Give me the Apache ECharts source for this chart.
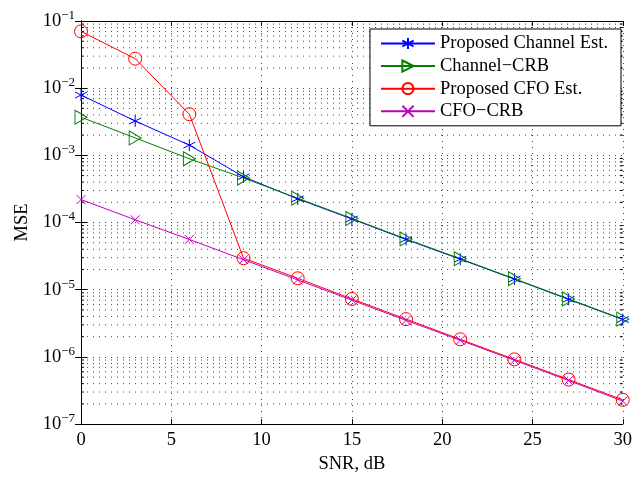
<!DOCTYPE html>
<html>
<head>
<meta charset="utf-8">
<script src="https://cdn.jsdelivr.net/npm/echarts@6/dist/echarts.min.js"></script>
<style>
  html, body { margin: 0; padding: 0; background: #fff; }
  #chart { width: 635px; height: 479px; }
</style>
</head>
<body>
<div id="chart"></div>
<script>
// values
const snr = [0, 3, 6, 9, 12, 15, 18, 21, 24, 27, 30];
const channelEst = [7.9e-3, 3.25e-3, 1.42e-3, 4.8e-4, 2.25e-4, 1.13e-4, 5.6e-5, 2.85e-5, 1.44e-5, 7.2e-6, 3.6e-6];
const channelCrb = [3.7e-3, 1.82e-3, 8.9e-4, 4.6e-4, 2.3e-4, 1.15e-4, 5.7e-5, 2.9e-5, 1.46e-5, 7.3e-6, 3.65e-6];
const cfoEst = [7.0e-2, 2.75e-2, 4.1e-3, 2.95e-5, 1.48e-5, 7.3e-6, 3.65e-6, 1.83e-6, 9.2e-7, 4.6e-7, 2.3e-7];
const cfoCrb = [2.2e-4, 1.1e-4, 5.6e-5, 2.8e-5, 1.4e-5, 7.0e-6, 3.5e-6, 1.77e-6, 8.9e-7, 4.45e-7, 2.2e-7];
const seriesNames = ['Proposed Channel Est.', 'Channel\u2212CRB', 'Proposed CFO Est.', 'CFO\u2212CRB'];
const yMin = 1e-7;
const yMax = 1e-1;

// minor log positions (2..9 of each decade) for grid and ticks
const minorY = [];
for (let e = -7; e < -1; e++) {
    for (let m = 2; m <= 9; m++) {
        minorY.push([0, m * Math.pow(10, e)]);
    }
}

const font = 'Liberation Serif, Times New Roman, serif';
const fs = 18.5;
const dotted = { type: [1, 5], color: '#444', width: 1 };

const ASTERISK = 'path://M0,-6L0,6M-5.2,-3L5.2,3M-5.2,3L5.2,-3';
const TRI_RIGHT = 'path://M0,0L11,6.5L0,13Z';
const CROSS = 'path://M-1,-1L1,1M-1,1L1,-1';

function supLabel(value) {
    const e = Math.round(Math.log10(value));
    return '10{sup|' + String(e).replace('-', '\u2212') + '}';
}

function lineSeries(name, data, color, symbol, size) {
    return {
        name: name,
        type: 'line',
        data: snr.map((x, i) => [x, data[i]]),
        symbol: symbol,
        symbolSize: size,
        showSymbol: true,
        lineStyle: { color: color, width: 1 },
        itemStyle: { color: 'transparent', borderColor: color, borderWidth: 1 },
        emphasis: { disabled: true },
        animation: false,
        z: 3
    };
}

const chart = echarts.init(document.getElementById('chart'), null, { renderer: 'canvas' });

chart.setOption({
    backgroundColor: '#fff',
    animation: false,
    textStyle: { fontFamily: font },
    grid: { left: 81, right: 8, top: 21, bottom: 50, show: false },
    legend: {
        data: seriesNames,
        orient: 'vertical',
        right: 14,
        top: 29,
        itemWidth: 54,
        itemHeight: 14,
        itemGap: 3.6,
        padding: [5, 13, 5, 10],
        backgroundColor: '#fff',
        borderColor: '#000',
        borderWidth: 1,
        textStyle: { fontFamily: font, fontSize: fs, color: '#000' },
        selectedMode: false
    },
    xAxis: [{
        type: 'value',
        min: 0,
        max: 30,
        interval: 5,
        name: 'SNR, dB',
        nameLocation: 'middle',
        nameGap: 28,
        nameTextStyle: { fontFamily: font, fontSize: fs, color: '#000' },
        axisLine: { lineStyle: { color: '#000', width: 1 } },
        axisTick: { inside: true, length: 5, lineStyle: { color: '#000' } },
        axisLabel: { fontFamily: font, fontSize: fs, color: '#000', margin: 7 },
        splitLine: { show: true, lineStyle: dotted }
    }, {
        type: 'value',
        position: 'top',
        min: 0,
        max: 30,
        interval: 5,
        axisLine: { show: true, lineStyle: { color: '#000', width: 1 } },
        axisTick: { show: true, inside: true, length: 5, lineStyle: { color: '#000' } },
        axisLabel: { show: false },
        splitLine: { show: false }
    }],
    yAxis: [{
        type: 'log',
        logBase: 10,
        min: yMin,
        max: yMax,
        interval: 1,
        name: 'MSE',
        nameLocation: 'middle',
        nameGap: 48,
        nameTextStyle: { fontFamily: font, fontSize: fs, color: '#000' },
        axisLine: { show: true, lineStyle: { color: '#000', width: 1 } },
        axisTick: { inside: true, length: 6, lineStyle: { color: '#000' } },
        axisLabel: {
            fontFamily: font, fontSize: fs, color: '#000', margin: 6,
            formatter: supLabel,
            rich: {
                sup: { fontFamily: font, fontSize: 13, color: '#000', padding: [0, 0, 11, 0] }
            }
        },
        splitLine: { show: true, lineStyle: dotted }
    }, {
        type: 'log',
        logBase: 10,
        min: yMin,
        max: yMax,
        interval: 1,
        position: 'right',
        axisLine: { show: true, lineStyle: { color: '#000', width: 1 } },
        axisTick: { show: true, inside: true, length: 6, lineStyle: { color: '#000' } },
        axisLabel: { show: false },
        splitLine: { show: false }
    }],
    series: [
        {
            name: 'minor',
            type: 'custom',
            silent: true,
            z: 1,
            xAxisIndex: 0,
            yAxisIndex: 0,
            data: minorY,
            renderItem: function (params, api) {
                const y = api.coord([0, api.value(1)])[1];
                const x0 = params.coordSys.x;
                const x1 = x0 + params.coordSys.width;
                return {
                    type: 'group',
                    children: [
                        { type: 'line', shape: { x1: x0, y1: y, x2: x1, y2: y },
                          style: { stroke: '#444', lineWidth: 1, lineDash: [1, 5] } },
                        { type: 'line', shape: { x1: x0, y1: y, x2: x0 + 3, y2: y },
                          style: { stroke: '#000', lineWidth: 1 } },
                        { type: 'line', shape: { x1: x1 - 3, y1: y, x2: x1, y2: y },
                          style: { stroke: '#000', lineWidth: 1 } }
                    ]
                };
            },
            animation: false
        },
        lineSeries(seriesNames[0], channelEst, '#0000ff', ASTERISK, 12),
        lineSeries(seriesNames[1], channelCrb, '#008000', TRI_RIGHT, [12, 14]),
        lineSeries(seriesNames[2], cfoEst, '#ff0000', 'circle', 13),
        lineSeries(seriesNames[3], cfoCrb, '#bf00bf', CROSS, 9)
    ]
});
</script>
</body>
</html>
